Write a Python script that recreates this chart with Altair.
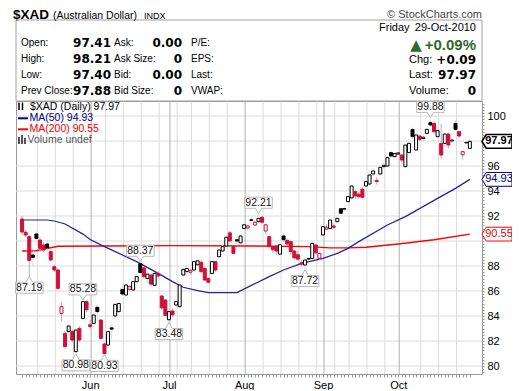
import altair as alt
import pandas as pd

# ---------------- data ----------------
holidays = ["2010-05-31", "2010-07-05", "2010-09-06"]
dates = [d for d in pd.bdate_range("2010-05-04", "2010-10-29")
         if d.strftime("%Y-%m-%d") not in holidays]

opens = [91.76, 90.70, 90.35, 88.88, 90.56, 90.08, 89.68, 89.76, 89.15, 87.95,
         87.68, 84.21, 82.61, 82.75, 82.75, 81.15, 83.01, 83.81, 85.15, 83.30,
         83.41, 84.70, 83.68, 81.76, 81.68, 83.05, 84.00, 84.35, 86.13, 85.68,
         86.13, 86.08, 86.75, 88.20, 87.85, 87.00, 87.28, 86.45, 87.41, 85.60,
         85.28, 83.70, 84.40, 84.88, 84.75, 87.28, 87.55, 87.50, 87.68, 88.10,
         88.30, 87.81, 87.00, 87.40, 88.35, 88.75, 89.20, 89.60, 90.65, 89.55,
         90.10, 89.85, 91.00, 91.05, 91.65, 91.28, 91.55, 91.90, 90.80, 90.35,
         89.55, 89.60, 88.95, 90.40, 90.05, 89.95, 89.20, 88.90, 88.25, 88.08,
         88.55, 88.60, 89.68, 88.61, 90.48, 90.95, 91.00, 91.20, 91.55, 92.58,
         92.55, 93.15, 93.45, 93.95, 93.75, 94.15, 94.40, 94.56, 95.36, 94.85,
         95.36, 95.95, 96.00, 97.07, 96.75, 96.95, 96.88, 95.95, 97.07, 98.93,
         97.28, 98.40, 98.20, 98.61, 99.47, 99.41, 98.35, 97.81, 97.81, 98.56,
         98.00, 99.41, 98.75, 96.90, 97.85, 97.41]
highs = [92.00, 90.90, 90.50, 89.15, 90.80, 90.30, 89.90, 90.10, 89.30, 88.10,
         87.80, 85.10, 82.80, 83.40, 82.90, 83.00, 83.20, 85.28, 85.25, 83.70,
         84.20, 84.80, 83.75, 81.90, 82.90, 83.30, 85.00, 85.10, 86.50, 86.60,
         86.50, 86.90, 87.30, 88.37, 87.95, 87.60, 87.40, 87.50, 87.60, 85.70,
         85.35, 84.50, 84.60, 85.20, 86.60, 87.80, 88.10, 87.75, 88.45, 88.50,
         88.50, 87.90, 87.10, 88.40, 88.40, 89.40, 89.70, 90.40, 90.80, 89.60,
         90.35, 90.50, 91.40, 91.30, 91.95, 91.60, 92.21, 92.00, 91.40, 90.40,
         89.60, 89.70, 89.80, 90.70, 90.20, 90.00, 89.30, 89.20, 88.50, 88.55,
         88.75, 89.90, 89.75, 89.10, 91.20, 91.35, 91.70, 91.40, 91.90, 92.65,
         92.70, 93.60, 94.50, 94.10, 93.95, 94.30, 94.90, 95.40, 95.80, 95.10,
         96.00, 96.30, 96.80, 97.20, 97.10, 97.15, 96.95, 97.70, 97.90, 99.10,
         98.60, 98.45, 98.60, 99.00, 99.88, 99.50, 98.90, 99.35, 98.60, 98.60,
         98.10, 99.70, 98.80, 97.20, 98.00, 98.21]
lows = [90.45, 90.30, 87.19, 87.95, 89.90, 89.20, 89.10, 88.90, 88.40, 87.50,
        86.10, 83.60, 81.40, 82.40, 81.90, 80.98, 81.90, 83.60, 84.30, 83.00,
        83.00, 83.55, 82.10, 80.93, 81.50, 82.10, 83.70, 84.20, 85.60, 85.50,
        86.00, 85.95, 86.60, 87.30, 86.95, 86.60, 86.35, 86.30, 87.00, 84.50,
        84.00, 83.48, 83.90, 84.70, 84.60, 87.10, 87.30, 87.30, 87.50, 87.90,
        87.40, 86.80, 86.60, 87.20, 87.55, 88.60, 89.10, 89.50, 89.90, 88.90,
        89.80, 89.70, 90.90, 90.90, 91.40, 91.20, 91.40, 91.40, 90.50, 89.50,
        89.00, 88.90, 88.80, 89.90, 89.60, 88.90, 88.50, 88.40, 87.95, 87.72,
        88.40, 88.50, 89.00, 88.50, 90.30, 90.90, 90.90, 91.00, 91.40, 92.20,
        92.40, 92.90, 93.30, 93.40, 93.35, 93.40, 94.20, 94.40, 95.20, 94.50,
        95.20, 95.80, 95.90, 96.70, 96.60, 96.85, 96.30, 95.80, 97.00, 98.20,
        97.20, 98.00, 97.90, 98.50, 99.20, 98.60, 98.20, 96.55, 97.50, 97.40,
        97.90, 98.80, 98.20, 96.50, 97.70, 97.40]
closes = [90.72, 90.48, 88.45, 88.69, 90.21, 89.41, 89.28, 89.45, 88.48, 87.68,
          86.21, 84.75, 81.55, 83.20, 82.08, 82.88, 82.08, 85.15, 84.50, 83.15,
          84.08, 84.35, 82.21, 81.00, 82.75, 82.95, 84.93, 85.00, 85.76, 86.48,
          86.35, 86.75, 87.15, 87.48, 87.15, 87.35, 86.55, 87.41, 87.20, 84.65,
          84.05, 84.35, 84.10, 85.15, 86.48, 87.73, 87.80, 87.65, 88.35, 88.42,
          87.55, 86.88, 86.70, 88.35, 87.68, 89.28, 89.55, 90.30, 90.00, 89.01,
          90.00, 90.40, 91.30, 91.20, 91.70, 91.50, 91.81, 91.50, 91.30, 89.55,
          89.30, 89.20, 89.70, 90.10, 89.76, 89.15, 88.65, 88.55, 88.15, 88.48,
          88.60, 89.81, 89.05, 89.00, 91.15, 91.10, 91.68, 91.10, 91.81, 92.22,
          92.60, 93.55, 94.40, 93.60, 93.55, 93.50, 94.75, 95.28, 95.60, 94.75,
          95.89, 96.05, 96.67, 96.80, 97.00, 97.05, 96.48, 97.68, 97.81, 98.35,
          98.48, 98.13, 98.30, 98.93, 99.28, 98.75, 98.83, 96.88, 98.56, 97.68,
          98.08, 98.93, 98.40, 97.15, 97.88, 97.97]

ma50_idx = [0, 7, 9, 12, 17, 19, 23, 26, 32, 38, 42, 45, 49, 52, 60, 64, 69, 73,
            78, 84, 88, 91, 94, 102, 107, 116, 121, 125]
ma50_val = [91.68, 91.68, 91.60, 91.36, 90.55, 90.12, 89.55, 89.15, 88.35, 87.41,
            86.75, 86.30, 86.03, 85.87, 85.87, 86.45, 87.15, 87.68, 88.21, 88.61,
            89.01, 89.41, 89.95, 91.28, 91.95, 93.41, 94.21, 94.93]
ma200_idx = [0, 4, 10, 23, 42, 64, 80, 86, 91, 96, 105, 115, 125]
ma200_val = [89.20, 89.22, 89.58, 89.60, 89.63, 89.60, 89.55, 89.45, 89.45, 89.50,
             89.76, 90.10, 90.55]

hi_label_idx = [17, 33, 66, 114]
lo_label_idx = [2, 15, 23, 41, 79]

y_tick_labels = [80, 82, 84, 86, 88, 90, 92, 94, 96, 98, 100]
y_minor_ticks = [79.5 + 0.25 * k for k in range(87)]

info_labels_1 = ["Open:", "High:", "Low:", "Prev Close:"]
info_labels_2 = ["Ask:", "Ask Size:", "Bid:", "Bid Size:"]
info_values_2 = ["0.00", "0", "0.00", "0"]
info_labels_3 = ["P/E:", "EPS:", "Last:", "VWAP:"]

# ---------------- derived tables ----------------
n = len(dates)
idx = list(range(n))
prev = [opens[0]] + closes[:-1]
direction = ["down" if c < p else "up" for c, p in zip(closes, prev)]
kind = [d + ("-filled" if c < o else "-hollow") for d, o, c in zip(direction, opens, closes)]
df = pd.DataFrame({"i": idx, "o": opens, "h": highs, "l": lows, "c": closes,
                   "dir": direction, "kind": kind})

month_starts = [i for i in range(1, n) if dates[i].month != dates[i - 1].month]
month_names = [dates[i].strftime("%b") for i in month_starts]
week_starts = [i for i in range(1, n)
               if dates[i].isocalendar()[1] != dates[i - 1].isocalendar()[1]]
week_lines = [w for w in week_starts if all(abs(w - m) > 1 for m in month_starts)]

tag_values = [closes[-1], ma50_val[-1], ma200_val[-1]]
hidden = [v for v in y_tick_labels if abs(v - tag_values[0]) < 0.6 or abs(v - tag_values[2]) < 0.6]

W, H = 466, 273
XD = [-0.3, 127.0]
YD = [79.36, 101.2]
xs = alt.Scale(domain=XD, nice=False, zero=False)
ys = alt.Scale(domain=YD, nice=False, zero=False)

label_expr = "".join(f"datum.value == {m} ? '{nm}' : " for m, nm in zip(month_starts, month_names)) + "''"
hide_expr = "".join(f" && datum.value != {h}" for h in hidden)
xaxis = alt.Axis(values=idx, labelExpr=label_expr, tickSize=3, tickColor="#999999",
                 domain=False, grid=False, labelFont="Liberation Sans", labelFontSize=11,
                 labelColor="#000000", labelPadding=2, labelOverlap=False,
                 labelFlush=False, title=None)
yaxis = alt.Axis(orient="right", values=y_minor_ticks,
                 labelExpr="datum.value % 2 == 0" + hide_expr + " ? format(datum.value, 'd') : ''",
                 tickSize=2, tickColor="#999999", domain=False, grid=False,
                 labelFont="Liberation Sans", labelFontSize=11, labelColor="#000000",
                 labelPadding=3, labelOverlap=False, labelFlush=False, title=None)


def X(f):
    return alt.X(f, scale=xs, axis=xaxis)


def Y(f):
    return alt.Y(f, scale=ys, axis=yaxis)


layers = []

# horizontal grid
layers.append(alt.Chart(pd.DataFrame({"v": y_tick_labels})).mark_rule(
    color="#dcdcdc", strokeWidth=1).encode(y=Y("v:Q")))
# vertical grid
grid_df = pd.DataFrame({"i": week_lines + month_starts,
                        "g": ["week"] * len(week_lines) + ["month"] * len(month_starts)})
layers.append(alt.Chart(grid_df).mark_rule(strokeWidth=1, xOffset=1).encode(
    x=X("i:Q"),
    color=alt.Color("g:N", scale=alt.Scale(domain=["week", "month"],
                                           range=["#dcdcdc", "#b0b0b0"]), legend=None)))

# moving averages
layers.append(alt.Chart(pd.DataFrame({"i": ma200_idx, "v": ma200_val})).mark_line(
    color="#ff0000", strokeWidth=1.4).encode(x=X("i:Q"), y=Y("v:Q")))
layers.append(alt.Chart(pd.DataFrame({"i": ma50_idx, "v": ma50_val})).mark_line(
    color="#22229a", strokeWidth=1.2).encode(x=X("i:Q"), y=Y("v:Q")))

# candles
dir_scale = alt.Scale(domain=["up", "down"], range=["#000000", "#d0103a"])
fill_scale = alt.Scale(domain=["up-hollow", "up-filled", "down-hollow", "down-filled"],
                       range=["#ffffff", "#000000", "#ffffff", "#d0103a"])
layers.append(alt.Chart(df).mark_rule(strokeWidth=1).encode(
    x=X("i:Q"), y=Y("l:Q"), y2="h:Q", color=alt.Color("dir:N", scale=dir_scale, legend=None)))
layers.append(alt.Chart(df).mark_bar(width=3, strokeWidth=1).encode(
    x=X("i:Q"), y=Y("o:Q"), y2="c:Q",
    stroke=alt.Stroke("dir:N", scale=dir_scale, legend=None),
    fill=alt.Fill("kind:N", scale=fill_scale, legend=None)))

# high / low callouts
PATH_UP = "M0,0L0.22,-0.34L0.92,-0.34L0.92,-1.08L-0.92,-1.08L-0.92,-0.34L-0.22,-0.34Z"
PATH_DN = "M0,0L0.22,0.4L0.92,0.4L0.92,1.14L-0.92,1.14L-0.92,0.4L-0.22,0.4Z"
hi_df = pd.DataFrame({"i": hi_label_idx, "v": [highs[k] for k in hi_label_idx]})
hi_df["t"] = hi_df["v"].map(lambda v: f"{v:.2f}")
lo_df = pd.DataFrame({"i": lo_label_idx, "v": [lows[k] for k in lo_label_idx]})
lo_df["t"] = lo_df["v"].map(lambda v: f"{v:.2f}")
for d, path, dy in [(hi_df, PATH_UP, -10.6), (lo_df, PATH_DN, 11.5)]:
    layers.append(alt.Chart(d).mark_point(shape=path, size=900, filled=True, fill="#ffffff",
                                          stroke="#b8b8b8", strokeWidth=1, opacity=1).encode(
        x=X("i:Q"), y=Y("v:Q")))
    layers.append(alt.Chart(d).mark_text(font="Liberation Sans", fontSize=10.5, dy=dy,
                                         baseline="middle", color="#111111").encode(
        x=X("i:Q"), y=Y("v:Q"), text="t:N"))

# right-hand value tags
PATH_TAG = "M-1,0L-0.72,-0.46L1,-0.46L1,0.46L-0.72,0.46Z"
tag_styles = [("#000000", 1.6, "bold"), ("#000080", 1, "normal"), ("#ff0000", 1, "normal")]
for val, (col, sw, fw) in zip(tag_values, tag_styles):
    td = pd.DataFrame({"v": [val], "t": [f"{val:.2f}"]})
    layers.append(alt.Chart(td).mark_point(shape=PATH_TAG, size=900, filled=True,
                                           fill="#ffffff", stroke=col, strokeWidth=sw,
                                           opacity=1).encode(x=alt.value(W + 15), y=Y("v:Q")))
    layers.append(alt.Chart(td).mark_text(font="Liberation Sans", fontSize=11, fontWeight=fw,
                                          color=col if col != "#ff0000" else "#ee0000",
                                          baseline="middle", align="center").encode(
        x=alt.value(W + 17), y=Y("v:Q"), text="t:N"))

# ---------------- header and legend text ----------------
one = pd.DataFrame({"k": [0]})


def label(text, x, y, size=10.5, weight="normal", align="left", color="#000000",
          font="Liberation Sans", baseline="middle"):
    return alt.Chart(one).mark_text(text=text, fontSize=size, fontWeight=weight, align=align,
                                    color=color, font=font, baseline=baseline).encode(
        x=alt.value(x), y=alt.value(y))


# info box frame
layers.append(alt.Chart(one).mark_rect(fill="#ffffff", stroke="#a0a0a0", strokeWidth=1).encode(
    x=alt.value(0), x2=alt.value(W), y=alt.value(-81), y2=alt.value(0)))

layers.append(label("$XAD", -3, -82.5, size=13.5, weight="bold", baseline="alphabetic"))
layers.append(label("(Australian Dollar)", 37, -82.5, size=10.5, baseline="alphabetic"))
layers.append(label("INDX", 128, -82.5, size=9, baseline="alphabetic"))
layers.append(label("\u00a9 StockCharts.com", W, -83, size=11, align="right",
                    color="#444444", baseline="alphabetic"))

rows_y = [-57.7, -41.7, -26.0, -10.3]
vals_1 = [f"{opens[-1]:.2f}", f"{highs[-1]:.2f}", f"{lows[-1]:.2f}", f"{closes[-2]:.2f}"]
for k, yy in enumerate(rows_y):
    layers.append(label(info_labels_1[k], 5, yy, size=10))
    layers.append(label(vals_1[k], 95, yy, size=12, weight="bold", align="right",
                        font="DejaVu Sans"))
    layers.append(label(info_labels_2[k], 98, yy, size=10))
    layers.append(label(info_values_2[k], 166, yy, size=12, weight="bold", align="right",
                        font="DejaVu Sans"))
    layers.append(label(info_labels_3[k], 175, yy, size=10))

chg = closes[-1] - closes[-2]
pct = chg / closes[-2] * 100
layers.append(label("Friday", 363, -72.7, size=11))
layers.append(label(dates[-1].strftime("%d-%b-%Y"), 460, -72.7, size=11, align="right"))
layers.append(label("\u25b2", 400, -56.5, size=15, align="center", color="#2d6a2d",
                    font="DejaVu Sans"))
layers.append(label(f"+{pct:.2f}%", 460, -56.5, size=15, weight="bold", align="right",
                    color="#2d6a2d"))
layers.append(label("Chg:", 393, -40.7, size=11))
layers.append(label(f"+{chg:.2f}", 460, -40.7, size=12, weight="bold", align="right",
                    font="DejaVu Sans"))
layers.append(label("Last:", 393, -26.0, size=11))
layers.append(label(f"{closes[-1]:.2f}", 460, -26.0, size=12, weight="bold", align="right",
                    font="DejaVu Sans"))
layers.append(label("Volume:", 393, -10.3, size=11))
layers.append(label("0", 460, -10.3, size=12, weight="bold", align="right",
                    font="DejaVu Sans"))

# legend inside plot
layers.append(alt.Chart(one).mark_rule(color="#000000", strokeWidth=1.5).encode(
    x=alt.value(3), y=alt.value(1.5), y2=alt.value(9)))
layers.append(alt.Chart(one).mark_rule(color="#000000", strokeWidth=1.5).encode(
    x=alt.value(6.5), y=alt.value(1.5), y2=alt.value(9)))
layers.append(label(f"$XAD (Daily) {closes[-1]:.2f}", 14, 5.5, size=10.5))
layers.append(alt.Chart(one).mark_rule(color="#000080", strokeWidth=2).encode(
    x=alt.value(2), x2=alt.value(12), y=alt.value(17.3)))
layers.append(label(f"MA(50) {ma50_val[-1]:.2f}", 13.5, 17.3, size=10.5, color="#000080"))
layers.append(alt.Chart(one).mark_rule(color="#ff0000", strokeWidth=2).encode(
    x=alt.value(2), x2=alt.value(12), y=alt.value(28.3)))
layers.append(label(f"MA(200) {ma200_val[-1]:.2f}", 13.5, 28.3, size=10.5, color="#ee0000"))
for xx, top in [(3, 36), (6, 34), (9, 37)]:
    layers.append(alt.Chart(one).mark_rule(color="#555555", strokeWidth=2).encode(
        x=alt.value(xx), y=alt.value(top), y2=alt.value(43)))
layers.append(label("Volume undef", 11.5, 39.3, size=10.5, color="#555555"))

chart = alt.layer(*layers).properties(
    width=W, height=H,
    padding={"left": 8, "top": 93, "right": 30, "bottom": 16},
    autosize=alt.AutoSizeParams(type="none"),
    background="#ffffff",
).configure_view(stroke="#999999", strokeWidth=1)

chart.save("out.html", embed_options={"renderer": "svg", "actions": False})
